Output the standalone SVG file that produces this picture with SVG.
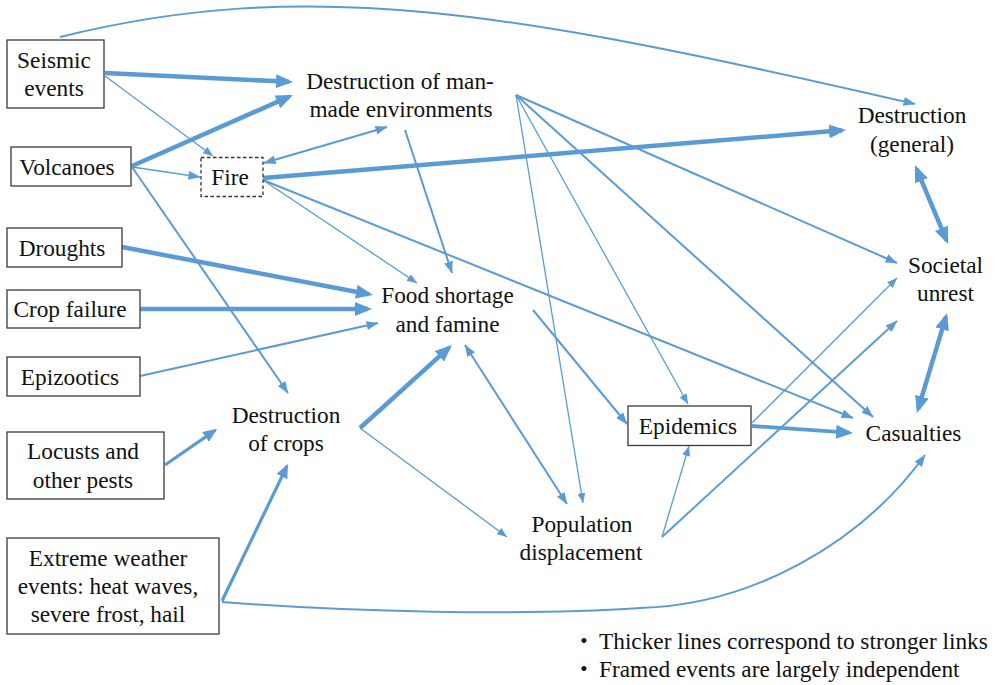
<svg xmlns="http://www.w3.org/2000/svg" width="995" height="685" viewBox="0 0 995 685">
<style>
text{font-family:"Liberation Serif","Noto Sans CJK JP",serif;font-size:23.3px;fill:#111;text-anchor:middle}
.box{fill:#fff;stroke:#3a3a3a;stroke-width:1.3}
.dash{fill:#fff;stroke:#333;stroke-width:1.3;stroke-dasharray:3.5 2.5}
.c{fill:none;stroke:#5B9BD5}
.t{stroke-width:1.3;marker-end:url(#sm)}
.m{stroke-width:2;marker-end:url(#md)}
.mt{stroke-width:3.2;marker-end:url(#md2)}
.k{stroke-width:4.5;marker-end:url(#lg)}
.ah{fill:#5B9BD5}
.leg{text-anchor:start}
</style>
<defs>
<marker id="sm" markerUnits="userSpaceOnUse" markerWidth="10" markerHeight="8" refX="10" refY="4" orient="auto-start-reverse"><path class="ah" d="M0,0 L10,4 L0,8 z"/></marker>
<marker id="md" markerUnits="userSpaceOnUse" markerWidth="12" markerHeight="9" refX="11.5" refY="4.5" orient="auto-start-reverse"><path class="ah" d="M0,0 L12,4.5 L0,9 z"/></marker>
<marker id="md2" markerUnits="userSpaceOnUse" markerWidth="14" markerHeight="12" refX="12" refY="6" orient="auto-start-reverse"><path class="ah" d="M0,0 L14,6 L0,12 z"/></marker>
<marker id="lg" markerUnits="userSpaceOnUse" markerWidth="17" markerHeight="14" refX="13" refY="7" orient="auto-start-reverse"><path class="ah" d="M0,0 L17,7 L0,14 z"/></marker>
</defs>

<g id="connectors">
  <!-- thin -->
  <path class="c t" d="M105,76 L213,156"/>
  <path class="c t" d="M263,180 L417,283"/>
  <path class="c t" d="M516,95 L688,404"/>
  <path class="c t" d="M516,95 L583,503"/>
  <path class="c t" d="M360,428 L507,537"/>
  <path class="c t" d="M662,537 L689,446"/>
  <path class="c t" d="M752,423 L897,278"/>
  <!-- medium -->
  <path class="c m" style="stroke-width:1.6" d="M132,167 L200,177"/>
  <path class="c m" d="M132,167 L288,393"/>
  <path class="c m" style="marker-start:url(#md)" d="M264,163 L387,127"/>
  <path class="c m" d="M405,130 L452,273"/>
  <path class="c m" d="M263,180 L853,418"/>
  <path class="c m" d="M140,376 L378,323"/>
  <path class="c m" d="M516,95 L897,263"/>
  <path class="c m" d="M516,95 L873,417"/>
  <path class="c m" d="M533,310 L627,424"/>
  <path class="c m" style="marker-start:url(#md)" d="M465,345 L567,504"/>
  <path class="c m" d="M662,537 L897,321"/>
  <path class="c m" d="M60,37 C310,-25 515,12 915,104"/>
  <path class="c m" d="M222,602 C350,612 520,616 640,608 C750,605 860,545 925,455"/>
  <!-- medium-thick -->
  <path class="c mt" d="M165,465 L215.4,430.1"/>
  <path class="c mt" d="M222,601 L287.1,465.8"/>
  <!-- thick -->
  <path class="c k" d="M105,73 L289,81.8"/>
  <path class="c k" d="M132,166 L289.3,96.6"/>
  <path class="c k" d="M263,178 L842,130.3"/>
  <path class="c k" d="M122,247 L369,294.2"/>
  <path class="c k" d="M140,309 L368,309"/>
  <path class="c k" d="M360,428 L449,347.7"/>
  <path class="c k" style="marker-start:url(#lg)" d="M916.5,168.7 L946.5,240.3"/>
  <path class="c k" style="marker-start:url(#lg)" d="M945.9,316.8 L918.1,409.2"/>
  <path class="c k" style="stroke-width:3.8" d="M752,426 L849,432.7"/>
</g>

<g id="seismic">
  <rect class="box" x="7" y="40" width="97" height="68"/>
  <text x="54" y="67.5">Seismic</text>
  <text x="54" y="95.5">events</text>
</g>
<g id="volcanoes">
  <rect class="box" x="11" y="147" width="120" height="39"/>
  <text x="67" y="174.5">Volcanoes</text>
</g>
<g id="fire">
  <rect class="dash" x="201" y="157.5" width="62" height="39"/>
  <text x="230" y="184.5">Fire</text>
</g>
<g id="droughts">
  <rect class="box" x="7" y="228" width="115" height="39"/>
  <text x="62" y="255.5">Droughts</text>
</g>
<g id="crop-failure">
  <rect class="box" x="7" y="290" width="133" height="38"/>
  <text x="70" y="317">Crop failure</text>
</g>
<g id="epizootics">
  <rect class="box" x="7" y="357" width="133" height="39"/>
  <text x="70" y="384.5">Epizootics</text>
</g>
<g id="locusts">
  <rect class="box" x="7" y="432" width="157" height="67"/>
  <text x="83" y="459">Locusts and</text>
  <text x="83" y="487.5">other pests</text>
</g>
<g id="extreme-weather">
  <rect class="box" x="7" y="538" width="212" height="96"/>
  <text x="108" y="566">Extreme weather</text>
  <text x="108" y="593.5">events: heat waves,</text>
  <text x="108" y="621.5">severe frost, hail</text>
</g>
<g id="destruction-man-made">
  <text x="400" y="88.5">Destruction of man-</text>
  <text x="401" y="117">made environments</text>
</g>
<g id="destruction-general">
  <text x="912" y="123">Destruction</text>
  <text x="912" y="151.5">(general)</text>
</g>
<g id="societal-unrest">
  <text x="945.5" y="273">Societal</text>
  <text x="945.5" y="301">unrest</text>
</g>
<g id="food-shortage">
  <text x="447.5" y="303">Food shortage</text>
  <text x="447.5" y="331.5">and famine</text>
</g>
<g id="destruction-crops">
  <text x="286" y="423">Destruction</text>
  <text x="286" y="451">of crops</text>
</g>
<g id="epidemics">
  <rect class="box" x="628" y="406" width="123" height="39.5"/>
  <text x="688" y="434">Epidemics</text>
</g>
<g id="casualties">
  <text x="913.5" y="441">Casualties</text>
</g>
<g id="population-displacement">
  <text x="582" y="531.5">Population</text>
  <text x="581" y="560">displacement</text>
</g>
<g id="legend">
  <text x="584" y="649">・</text>
  <text class="leg" x="599" y="649">Thicker lines correspond to stronger links</text>
  <text x="584" y="677">・</text>
  <text class="leg" x="599" y="677">Framed events are largely independent</text>
</g>
</svg>
